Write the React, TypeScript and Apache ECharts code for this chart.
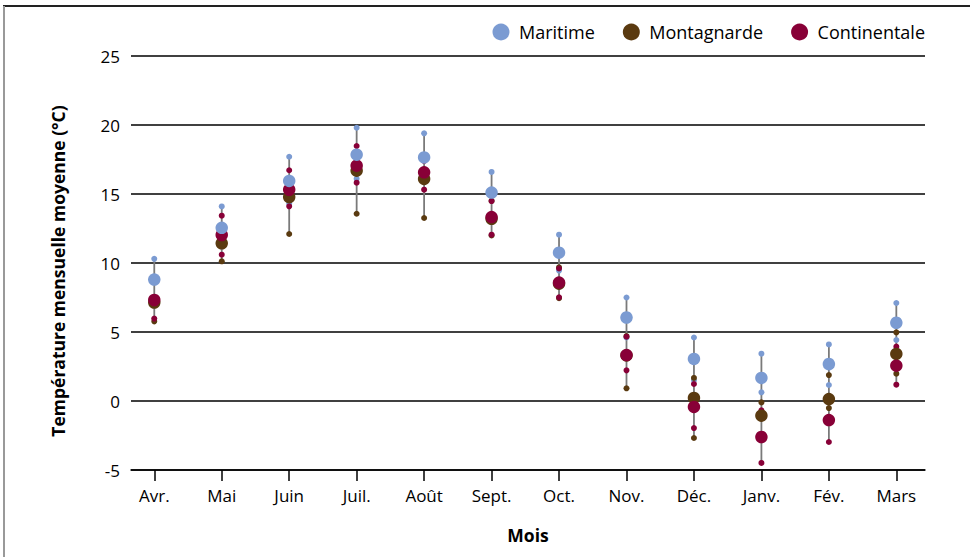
import React, { useEffect, useRef } from "react";
import * as echarts from "echarts";

const months = ["Avr.", "Mai", "Juin", "Juil.", "Août", "Sept.", "Oct.", "Nov.", "Déc.", "Janv.", "Fév.", "Mars"];

const maritimeMax = [10.3, 14.1, 17.7, 19.8, 19.4, 16.6, 12.05, 7.5, 4.6, 3.43, 4.1, 7.1];
const maritimeMean = [8.8, 12.55, 15.95, 17.85, 17.65, 15.1, 10.75, 6.05, 3.05, 1.67, 2.68, 5.67];
const maritimeMin = [7.3, 11.2, 14.3, 16.1, 16.2, 13.4, 9.45, 4.6, 1.5, 0.63, 1.16, 4.42];

const montagnardeMax = [7.5, 12.0, 15.3, 17.0, 16.5, 14.5, 9.69, 4.7, 1.67, -0.1, 1.88, 4.97];
const montagnardeMean = [7.13, 11.43, 14.78, 16.69, 16.09, 13.2, 8.5, 3.3, 0.22, -1.06, 0.14, 3.41];
const montagnardeMin = [5.77, 10.12, 12.1, 13.57, 13.26, 12.0, 7.45, 0.92, -2.68, -2.6, -0.51, 1.98];

const continentaleMax = [7.4, 13.43, 16.72, 18.48, 17.4, 14.49, 9.6, 4.66, 1.23, -0.68, 0.0, 3.94];
const continentaleMean = [7.32, 12.03, 15.31, 17.05, 16.57, 13.33, 8.58, 3.33, -0.43, -2.61, -1.38, 2.56];
const continentaleMin = [5.97, 10.6, 14.11, 15.82, 15.31, 12.05, 7.51, 2.22, -1.96, -4.49, -2.97, 1.18];

const yTicks = [-5, 0, 5, 10, 15, 20, 25];

const COLORS = {
  Maritime: "#7b9bd2",
  Montagnarde: "#5a3a10",
  Continentale: "#880037",
};

const FONT = "'Open Sans', sans-serif";

export default function App() {
  const ref = useRef<HTMLDivElement>(null);

  useEffect(() => {
    if (!ref.current) return;
    const chart = echarts.init(ref.current, undefined, { renderer: "svg" });

    const idx = months.map((_, i) => i);
    const pairs = (a: number[]) => a.map((v, i) => [i, v]);
    const smalls = (mx: number[], mn: number[]) => [...pairs(mx), ...pairs(mn)];

    const allArrays = [
      maritimeMax, maritimeMean, maritimeMin,
      montagnardeMax, montagnardeMean, montagnardeMin,
      continentaleMax, continentaleMean, continentaleMin,
    ];
    const ranges = idx.map((i) => {
      const vals = allArrays.map((a) => a[i]);
      return [i, Math.min(...vals), Math.max(...vals)];
    });

    const SMALL = 6;
    const BIG = 12.5;

    chart.setOption({
      animation: false,
      textStyle: { fontFamily: FONT, color: "#000" },
      graphic: [
        { type: "line", shape: { x1: 3, y1: 6, x2: 970, y2: 6 }, style: { stroke: "#222", lineWidth: 2 } },
        { type: "line", shape: { x1: 4, y1: 6, x2: 4, y2: 557 }, style: { stroke: "#999", lineWidth: 2 } },
        {
          type: "text",
          x: 58,
          y: 271,
          rotation: Math.PI / 2,
          style: {
            text: "Température mensuelle moyenne (°C)",
            font: "bold 17.5px 'Open Sans', sans-serif",
            fill: "#000",
            textAlign: "center",
            textVerticalAlign: "middle",
          },
        },
      ],
      legend: {
        data: ["Maritime", "Montagnarde", "Continentale"],
        right: 40,
        top: 18,
        icon: "circle",
        itemWidth: 26,
        itemHeight: 17,
        itemGap: 28,
        textStyle: { fontFamily: FONT, fontSize: 18, color: "#000" },
      },
      grid: { left: 131, right: 45, top: 56, bottom: 87 },
      xAxis: {
        type: "value",
        min: -0.345,
        max: 11.425,
        name: "Mois",
        nameLocation: "middle",
        nameGap: 56,
        nameTextStyle: { fontFamily: FONT, fontSize: 17.5, fontWeight: "bold", color: "#000" },
        axisLine: { show: true, onZero: false, lineStyle: { color: "#000", width: 1.5 } },
        axisTick: { show: true, length: 11, customValues: idx, lineStyle: { color: "#000", width: 1.5 } },
        axisLabel: {
          customValues: idx,
          margin: 17,
          fontSize: 17,
          fontFamily: FONT,
          color: "#000",
          formatter: (v: number) => months[Math.round(v)] ?? "",
        },
        splitLine: { show: false },
      },
      yAxis: {
        type: "value",
        min: -5,
        max: 25,
        interval: 5,
        axisLine: { show: false },
        axisTick: { show: false },
        axisLabel: {
          margin: 11,
          fontSize: 17,
          fontFamily: FONT,
          color: "#000",
          formatter: (v: number) => (yTicks.includes(v) ? String(v) : ""),
        },
        splitLine: { show: true, lineStyle: { color: "#000", width: 1.5 } },
      },
      series: [
        {
          type: "custom",
          name: "range",
          data: ranges,
          renderItem: (params: any, api: any) => {
            const x = api.value(0);
            const p1 = api.coord([x, api.value(1)]);
            const p2 = api.coord([x, api.value(2)]);
            return {
              type: "line",
              shape: { x1: p1[0], y1: p1[1], x2: p2[0], y2: p2[1] },
              style: { stroke: "#7a7a7a", lineWidth: 1.8 },
            };
          },
          encode: { x: 0, y: [1, 2] },
          silent: true,
        },
        { type: "scatter", name: "Maritime", symbolSize: SMALL, data: smalls(maritimeMax, maritimeMin), itemStyle: { color: COLORS.Maritime, opacity: 1 } },
        { type: "scatter", name: "Montagnarde", symbolSize: SMALL, data: smalls(montagnardeMax, montagnardeMin), itemStyle: { color: COLORS.Montagnarde, opacity: 1 } },
        { type: "scatter", name: "Continentale", symbolSize: SMALL, data: smalls(continentaleMax, continentaleMin), itemStyle: { color: COLORS.Continentale, opacity: 1 } },
        { type: "scatter", name: "Montagnarde", symbolSize: BIG, data: pairs(montagnardeMean), itemStyle: { color: COLORS.Montagnarde, opacity: 1 } },
        { type: "scatter", name: "Continentale", symbolSize: BIG, data: pairs(continentaleMean), itemStyle: { color: COLORS.Continentale, opacity: 1 } },
        { type: "scatter", name: "Maritime", symbolSize: BIG, data: pairs(maritimeMean), itemStyle: { color: COLORS.Maritime, opacity: 1 } },
      ],
    });

    return () => chart.dispose();
  }, []);

  return (
    <div
      ref={ref}
      style={{ position: "fixed", left: 0, top: 0, width: 970, height: 557, background: "#fff" }}
    />
  );
}
